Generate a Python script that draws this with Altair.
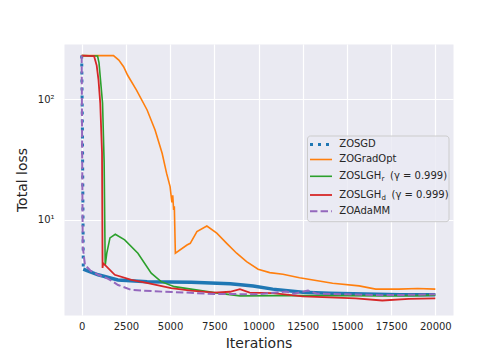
import altair as alt
import pandas as pd

# ---------------- data ----------------
sgd_x = [0, 40, 80, 90, 300, 930, 2050, 3700, 6200, 8400, 9700, 10800, 12500, 14000, 16000, 18000, 20000]
sgd_y = [230, 60, 8, 3.91, 3.80, 3.51, 3.18, 3.08, 3.04, 2.96, 2.84, 2.67, 2.52, 2.47, 2.43, 2.40, 2.40]

gopt_x = [0, 1800, 2100, 2370, 2600, 3100, 3700, 4150, 4550, 4800, 5000, 5100, 5150, 5200, 5240, 5298, 5955, 6140, 6517, 7079, 7640, 8202, 8764, 9326, 9978, 10635, 11382, 12320, 14191, 15691, 16629, 17938, 19000, 20000]
gopt_y = [230, 230, 211, 186, 158, 119, 81.5, 55.7, 35.7, 24.4, 18.9, 14, 16, 12.1, 13, 5.3, 6.2, 6.4, 8.0, 8.9, 7.76, 6.4, 5.3, 4.52, 3.90, 3.66, 3.55, 3.32, 2.99, 2.84, 2.67, 2.67, 2.70, 2.67]

lghr_x = [0, 900, 980, 1180, 1270, 1330, 1420, 1600, 1900, 2432, 3180, 3933, 4494, 5242, 6180, 7500, 8950, 11000, 13000, 15000, 17000, 19000, 20000]
lghr_y = [230, 228, 200, 93, 30, 4.2, 5.3, 7.1, 7.6, 6.83, 5.3, 3.62, 3.08, 2.80, 2.67, 2.50, 2.35, 2.36, 2.36, 2.36, 2.35, 2.36, 2.38]

lghd_x = [0, 700, 850, 950, 1050, 1150, 1180, 1215, 1870, 2809, 3742, 5056, 6180, 7500, 8390, 8950, 9500, 10820, 12506, 14000, 15500, 17000, 18500, 20000]
lghd_y = [230, 228, 190, 145, 93, 36, 4.0, 4.38, 3.51, 3.18, 2.99, 2.72, 2.60, 2.50, 2.54, 2.67, 2.50, 2.47, 2.33, 2.28, 2.24, 2.15, 2.22, 2.24]

adam_x = [0, 30, 60, 185, 500, 933, 1500, 2056, 2809, 4680, 6180, 7500, 8400, 10000, 11573, 12000, 12800, 13300, 15000, 17000, 19000, 20000]
adam_y = [230, 30, 6.0, 4.24, 3.80, 3.51, 3.25, 2.89, 2.63, 2.54, 2.49, 2.43, 2.43, 2.42, 2.55, 2.45, 2.60, 2.45, 2.42, 2.38, 2.40, 2.42]

x_ticks = [0, 2500, 5000, 7500, 10000, 12500, 15000, 17500, 20000]
y_ticks = [10, 100]

labels = ["ZOSGD", "ZOGradOpt", "ZOSLGH", "ZOSLGH", "ZOAdaMM"]
subs = ["", "", "r", "d", ""]
gamma_text = "(γ = 0.999)"
colors = ["#1f77b4", "#ff7f0e", "#2ca02c", "#d62728", "#9467bd"]

# ---------------- chart ----------------
FONT = "DejaVu Sans"
TXT = "#262626"

x_scale = alt.Scale(domain=[-1000, 21000], nice=False, zero=False)
y_scale = alt.Scale(type="log", domain=[1.63, 287], nice=False)

x_axis = alt.Axis(values=x_ticks, format="d", title="Iterations", labelPadding=6, titlePadding=5)
y_axis = alt.Axis(values=y_ticks, labelExpr="datum.value == 100 ? '10²' : '10¹'",
                  title="Total loss", labelPadding=10, titlePadding=8)

styles = [
    dict(strokeWidth=3, strokeDash=[3, 5]),
    dict(strokeWidth=1.6),
    dict(strokeWidth=1.6),
    dict(strokeWidth=1.8),
    dict(strokeWidth=2, strokeDash=[7.4, 3.2]),
]
series = [(sgd_x, sgd_y), (gopt_x, gopt_y), (lghr_x, lghr_y), (lghd_x, lghd_y), (adam_x, adam_y)]


def enc(ch):
    return ch.encode(
        x=alt.X("it:Q", scale=x_scale, axis=x_axis),
        y=alt.Y("loss:Q", scale=y_scale, axis=y_axis),
    )


layers = []
for k, ((xs, ys), col, st) in enumerate(zip(series, colors, styles)):
    df = pd.DataFrame({"it": xs, "loss": ys})
    if k == 0:
        # the steep drop shows the dotted pattern; the noisy tail reads as a thick band
        layers.append(enc(alt.Chart(df).mark_line(color=col, clip=True, strokeCap="butt", **st)
                          .transform_filter("datum.it <= 90")))
        layers.append(enc(alt.Chart(df).mark_line(color=col, clip=True, strokeWidth=3.5)
                          .transform_filter("datum.it >= 90")))
    else:
        layers.append(enc(alt.Chart(df).mark_line(color=col, clip=True, strokeCap="butt", **st)))

# ---------------- legend (drawn by hand for the subscripts) ----------------
dummy = pd.DataFrame({"a": [0]})
box = alt.Chart(dummy).mark_rect(fill="#EAEAF2", fillOpacity=0.8, stroke="#CCCCCC",
                                 strokeWidth=1, cornerRadius=3).encode(
    x=alt.value(243.5), x2=alt.value(385), y=alt.value(92), y2=alt.value(177.7))
layers.append(box)

row_y = [100.5, 115.5, 132.3, 151, 167.3]
line_x0, line_x1, text_x = 246, 268, 275.3
for i in range(5):
    st = dict(styles[i])
    layers.append(
        alt.Chart(dummy).mark_rule(color=colors[i], strokeCap="butt", **st).encode(
            x=alt.value(line_x0), x2=alt.value(line_x1), y=alt.value(row_y[i]), y2=alt.value(row_y[i]))
    )
    layers.append(
        alt.Chart(dummy).mark_text(text=labels[i], align="left", baseline="middle",
                                   font=FONT, fontSize=10, color=TXT).encode(
            x=alt.value(text_x), y=alt.value(row_y[i] - 0.5))
    )
    if subs[i]:
        layers.append(
            alt.Chart(dummy).mark_text(text=subs[i], align="left", baseline="middle",
                                       font=FONT, fontSize=7, color=TXT).encode(
                x=alt.value(text_x + 42.2), y=alt.value(row_y[i] + 2.5))
        )
        layers.append(
            alt.Chart(dummy).mark_text(text=gamma_text, align="left", baseline="middle",
                                       font=FONT, fontSize=10, color=TXT).encode(
                x=alt.value(326 if subs[i] == "r" else 327.5), y=alt.value(row_y[i] - 0.5))
        )

chart = alt.layer(*layers).properties(
    width=389, height=271,
    autosize=alt.AutoSizeParams(type="none"),
    padding={"left": 56, "top": 36, "right": 43, "bottom": 37},
    background="white",
).configure_view(
    fill="#EAEAF2", stroke="transparent"
).configure_axis(
    domain=False, ticks=False, gridColor="white", gridWidth=1.2, gridOpacity=1,
    labelFont=FONT, titleFont=FONT, labelFontSize=10, titleFontSize=14,
    labelColor=TXT, titleColor=TXT, titleFontWeight="normal",
)

chart.save("out.html", embed_options={"renderer": "svg", "actions": False})
